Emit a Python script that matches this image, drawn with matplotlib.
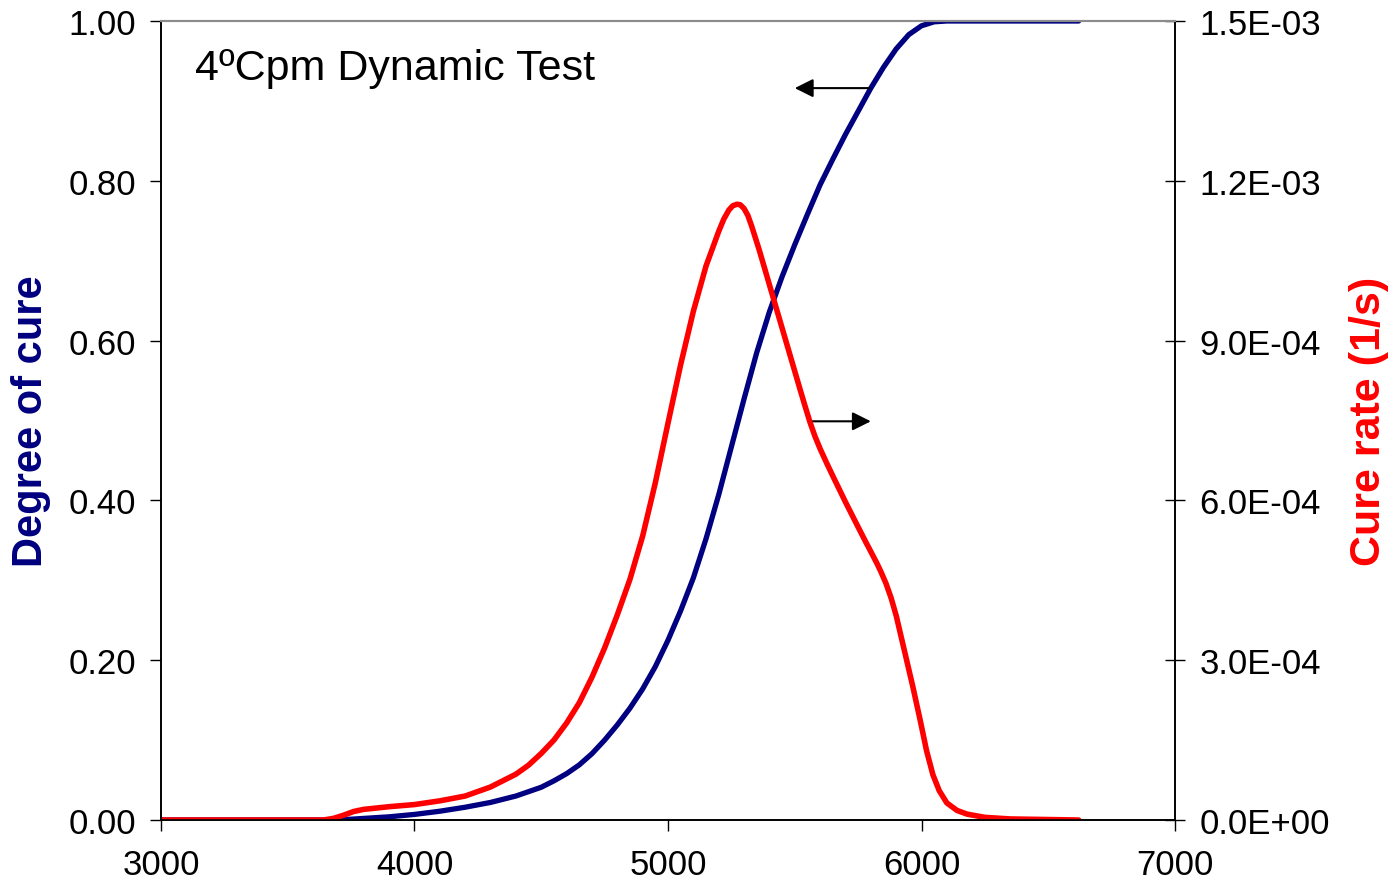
import matplotlib

matplotlib.use("Agg")
import matplotlib.pyplot as plt
from matplotlib.ticker import FixedLocator, FuncFormatter

plt.rcParams["font.family"] = ["Liberation Sans", "DejaVu Sans"]

# Degree of cure vs time (s)
time_alpha = [3000, 3650, 3700, 3750, 3800, 3900, 4000, 4100, 4200, 4300, 4400,
              4500, 4550, 4600, 4650, 4700, 4750, 4800, 4850, 4900, 4950, 5000,
              5050, 5100, 5150, 5200, 5250, 5300, 5350, 5400, 5450, 5500, 5550,
              5600, 5650, 5700, 5750, 5800, 5850, 5900, 5950, 6000, 6050, 6100,
              6620]
alpha = [0.0, 0.0, 0.0005, 0.001, 0.002, 0.004, 0.007, 0.011, 0.016, 0.022, 0.030,
         0.041, 0.049, 0.058, 0.069, 0.083, 0.100, 0.119, 0.140, 0.164, 0.192, 0.225,
         0.262, 0.303, 0.352, 0.407, 0.467, 0.527, 0.585, 0.636, 0.680, 0.720, 0.758,
         0.795, 0.827, 0.858, 0.887, 0.916, 0.942, 0.965, 0.983, 0.994, 0.999, 1.0,
         1.0]

# Cure rate (1/s) vs time (s), in units of 1e-4
time_rate = [3000, 3640, 3680, 3720, 3760, 3800, 3900, 4000, 4100, 4200, 4300,
             4400, 4450, 4500, 4550, 4600, 4650, 4700, 4750, 4800, 4850, 4900,
             4950, 5000, 5050, 5100, 5150, 5200, 5220, 5240, 5255, 5272, 5285,
             5300, 5315, 5330, 5360, 5400, 5440, 5480, 5520, 5540, 5560, 5580,
             5600, 5625, 5650, 5700, 5750, 5780, 5800, 5825, 5840, 5860, 5880,
             5900, 5935, 5965, 5995, 6020, 6045, 6070, 6100, 6140, 6180, 6250,
             6350, 6620]
rate_e4 = [0.0, 0.0, 0.03, 0.09, 0.16, 0.20, 0.25, 0.29, 0.36, 0.45, 0.62,
           0.86, 1.03, 1.25, 1.50, 1.82, 2.20, 2.68, 3.23, 3.85, 4.52, 5.33,
           6.33, 7.45, 8.55, 9.55, 10.40, 11.05, 11.28, 11.45, 11.53, 11.56, 11.55,
           11.48, 11.35, 11.15, 10.70, 10.05, 9.40, 8.75, 8.10, 7.78, 7.47, 7.20,
           6.97, 6.71, 6.46, 5.97, 5.50, 5.22, 5.04, 4.81, 4.66, 4.44, 4.17,
           3.84, 3.13, 2.52, 1.87, 1.30, 0.85, 0.55, 0.32, 0.18, 0.11, 0.05,
           0.02, 0.0]
rate = [v * 1e-4 for v in rate_e4]

x_ticks = [3000, 4000, 5000, 6000, 7000]
alpha_ticks = [0.0, 0.2, 0.4, 0.6, 0.8, 1.0]
rate_ticks = [0.0, 3e-4, 6e-4, 9e-4, 1.2e-3, 1.5e-3]

NAVY = "#000080"
RED = "#FF0000"

fig = plt.figure(figsize=(13.95, 8.87), dpi=100)
ax = fig.add_axes([0.1154, 0.0744, 0.7269, 0.9008])
ax2 = ax.twinx()

ax.plot(time_alpha, alpha, color=NAVY, linewidth=3.8,
        solid_capstyle="round", solid_joinstyle="round")
ax2.plot(time_rate, rate, color=RED, linewidth=4.0,
         solid_capstyle="round", solid_joinstyle="round")

ax.set_xlim(3000, 7000)
ax.set_ylim(0, 1.0)
ax2.set_ylim(0, 1.5e-3)

ax.xaxis.set_major_locator(FixedLocator(x_ticks))
ax.yaxis.set_major_locator(FixedLocator(alpha_ticks))
ax2.yaxis.set_major_locator(FixedLocator(rate_ticks))
ax.yaxis.set_major_formatter(FuncFormatter(lambda v, _: f"{v:.2f}"))
ax2.yaxis.set_major_formatter(FuncFormatter(lambda v, _: f"{v:.1E}"))

ax.tick_params(axis="x", direction="out", length=8, width=1, labelsize=25, pad=12)
ax.tick_params(axis="y", direction="out", length=8, width=1, labelsize=25, pad=10)
ax2.tick_params(axis="y", direction="inout", length=15, width=1, labelsize=25, pad=10)

for a in (ax, ax2):
    for side in ("left", "right", "bottom"):
        a.spines[side].set_color("black")
        a.spines[side].set_linewidth(1.2)
    a.spines["top"].set_color("#8c8c8c")
    a.spines["top"].set_linewidth(1.5)

ax.set_ylabel("Degree of cure", color=NAVY, fontsize=30, fontweight="bold")
ax.yaxis.set_label_coords(-0.108, 0.5)
ax2.set_ylabel("Cure rate (1/s)", color=RED, fontsize=31, fontweight="bold")
ax2.yaxis.set_label_coords(1.172, 0.5)

ax.text(0.0335, 0.927, "4ºCpm Dynamic Test", transform=ax.transAxes,
        fontsize=31, va="baseline", ha="left")

# Arrows pointing each curve to its axis
arrow_style = dict(arrowstyle="-|>", color="black", lw=1.5, mutation_scale=28,
                   shrinkA=0, shrinkB=0)
ax.annotate("", xy=(5500, 0.916), xytext=(5795, 0.916), arrowprops=arrow_style)
ax.annotate("", xy=(5800, 0.499), xytext=(5560, 0.499), arrowprops=arrow_style)

fig.savefig("out.png", dpi=100)
